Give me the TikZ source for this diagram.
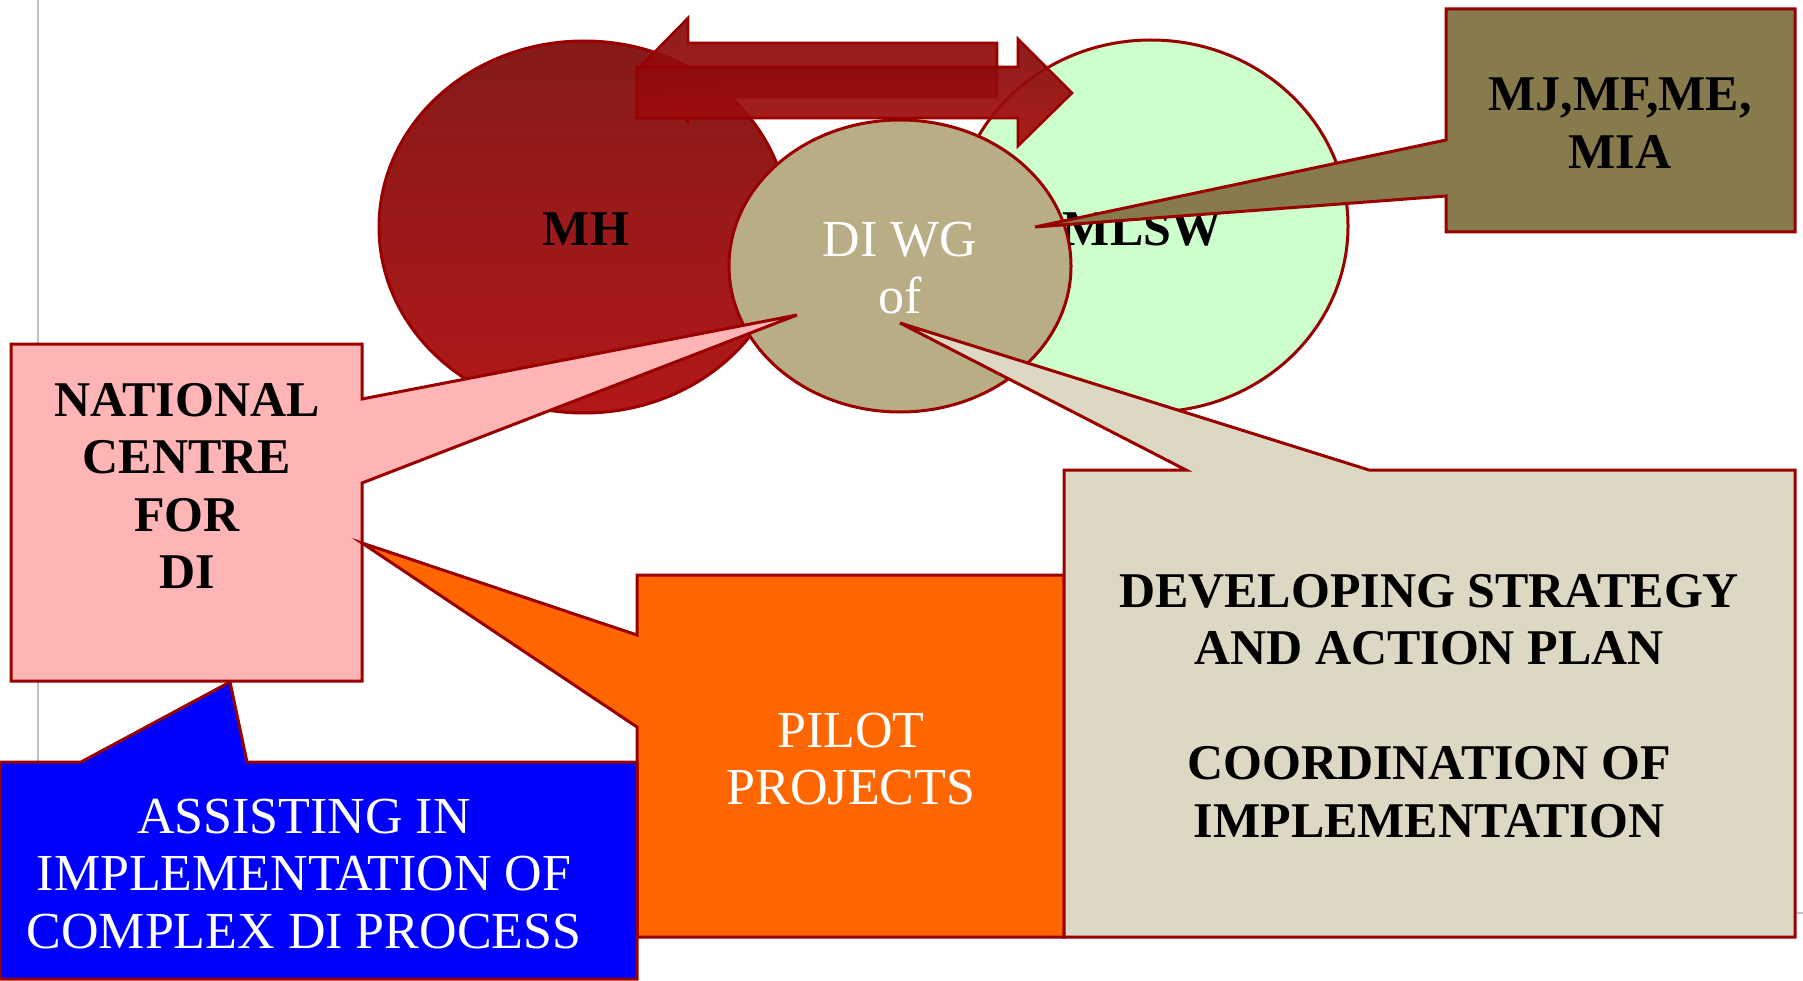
\documentclass[tikz,border=0pt]{standalone}
\usepackage{fontspec}
\setmainfont{Liberation Serif}
\definecolor{brd}{HTML}{990000}
\definecolor{mhtop}{HTML}{861A1A}
\definecolor{mhbot}{HTML}{B21818}
\definecolor{mlswfill}{HTML}{CCFFCC}
\definecolor{diwgfill}{HTML}{B8AD85}
\definecolor{pinkfill}{HTML}{FFB5B5}
\definecolor{olivefill}{HTML}{877A4D}
\definecolor{beigefill}{HTML}{DDD8C4}
\definecolor{orangefill}{HTML}{FF6600}
\definecolor{bluefill}{HTML}{0000FF}
\definecolor{arrtop}{HTML}{850C0C}
\definecolor{arrbot}{HTML}{A80C0C}
\tikzset{
  shp/.style={draw=brd, line width=3pt, line join=miter},
  boldtxt/.style={font=\fontsize{50}{57.5}\selectfont\bfseries, align=center, text=black, inner sep=0pt},
  regtxt/.style={font=\fontsize{52}{57.5}\selectfont, align=center, text=white, inner sep=0pt},
  bigarrow/.style={draw=brd, line width=2.6pt, top color=arrtop, bottom color=arrbot, fill opacity=0.93},
}
\begin{document}
\begin{tikzpicture}[x=1pt,y=-1pt]
\useasboundingbox (0,0) rectangle (1803,981);
% gray guide lines
\draw[line width=2.2pt, color=gray!50] (38,0) -- (38,762);
\draw[line width=2.2pt, color=gray!50] (1797,913) -- (1803,913);
% MH ellipse
\path[shp, top color=mhtop, bottom color=mhbot] (584,227) ellipse [x radius=205, y radius=186];
\node[boldtxt] (mh) at (586,229) {MH};
% MLSW ellipse
\path[shp, fill=mlswfill] (1151,226) ellipse [x radius=197, y radius=186];
\node[boldtxt] (mlsw) at (1142,229) {MLSW};
% double arrow
\path[bigarrow] (997,43) -- (688,43) -- (688,18) -- (637,70) -- (688,122) -- (688,97) -- (997,97) -- cycle;
\path[bigarrow] (637,67) -- (1018,67) -- (1018,39) -- (1072,93) -- (1018,146) -- (1018,118) -- (637,118) -- cycle;
% DI WG ellipse
\path[shp, fill=diwgfill] (900,266) ellipse [x radius=171, y radius=146];
\node[regtxt] (diwg) at (900,268) {DI WG\\of};
% olive callout
\path[shp, fill=olivefill] (1446,9) -- (1795,9) -- (1795,232) -- (1446,232) -- (1446,196) -- (1035,227) -- (1446,140) -- cycle;
\node[boldtxt] (minis) at (1620,123) {MJ,MF,ME,\\MIA};
% pink callout
\path[shp, fill=pinkfill] (11,344) -- (362,344) -- (362,399) -- (797,315) -- (362,483) -- (362,681) -- (11,681) -- cycle;
\node[boldtxt] (ncdi) at (187,486) {NATIONAL\\CENTRE\\FOR\\DI};
% orange callout
\path[shp, fill=orangefill] (637,575) -- (1064,575) -- (1064,937) -- (637,937) -- (637,727) -- (362,543) -- (637,635) -- cycle;
\node[regtxt] (pilot) at (851,759) {PILOT\\PROJECTS};
% blue callout
\path[shp, fill=bluefill] (0,762) -- (81,762) -- (230,682) -- (247,762) -- (637,762) -- (637,979) -- (0,979) -- cycle;
\node[regtxt] (assist) at (304,874) {ASSISTING IN\\IMPLEMENTATION OF\\COMPLEX DI PROCESS};
% beige callout
\path[shp, fill=beigefill] (1064,470) -- (1186,470) -- (900,323) -- (1369,470) -- (1795,470) -- (1795,937) -- (1064,937) -- cycle;
\node[boldtxt] (strat) at (1429,706) {DEVELOPING STRATEGY\\AND ACTION PLAN\\[57.5pt]COORDINATION OF\\IMPLEMENTATION};
\end{tikzpicture}
\end{document}
